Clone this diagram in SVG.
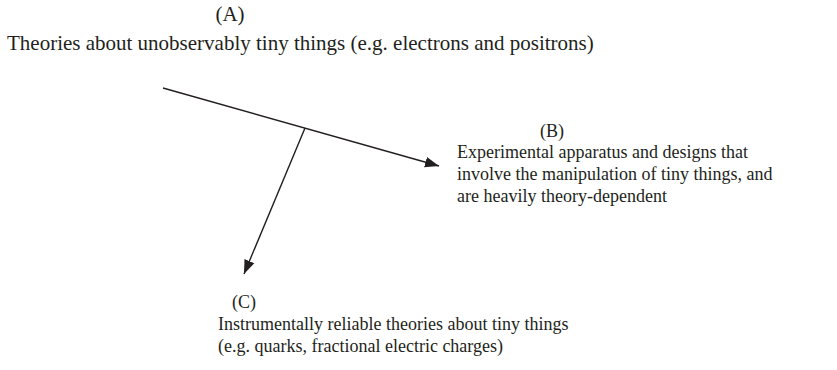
<svg xmlns="http://www.w3.org/2000/svg" width="837" height="370" viewBox="0 0 837 370">
<style>
text{font-family:"Liberation Serif","Times New Roman",serif;font-size:18px;fill:#231f20}
.big{font-size:21px}
.c{stroke:#231f20;stroke-width:1.4;fill:none}
</style>
<defs>
<marker id="ah" viewBox="0 0 10 10" refX="10" refY="5" markerWidth="14" markerHeight="14" markerUnits="userSpaceOnUse" orient="auto">
<path d="M0,1.2 L10,5 L0,8.8 z" fill="#231f20"/>
</marker>
</defs>
<rect width="837" height="370" fill="#fff"/>
<g id="nodeA">
<text class="big" x="230" y="21" text-anchor="middle">(A)</text>
<text class="big" x="7" y="50">Theories about unobservably tiny things (e.g. electrons and positrons)</text>
</g>
<g id="nodeB">
<text x="552" y="137" text-anchor="middle">(B)</text>
<text x="457" y="158">Experimental apparatus and designs that</text>
<text x="457" y="180">involve the manipulation of tiny things, and</text>
<text x="457" y="202">are heavily theory-dependent</text>
</g>
<g id="nodeC">
<text x="244" y="308" text-anchor="middle">(C)</text>
<text x="218" y="330">Instrumentally reliable theories about tiny things</text>
<text x="218" y="352">(e.g. quarks, fractional electric charges)</text>
</g>
<g id="connectors">
<line class="c" x1="163" y1="88" x2="439" y2="166" marker-end="url(#ah)"/>
<line class="c" x1="305" y1="128" x2="244" y2="274" marker-end="url(#ah)"/>
</g>
</svg>
